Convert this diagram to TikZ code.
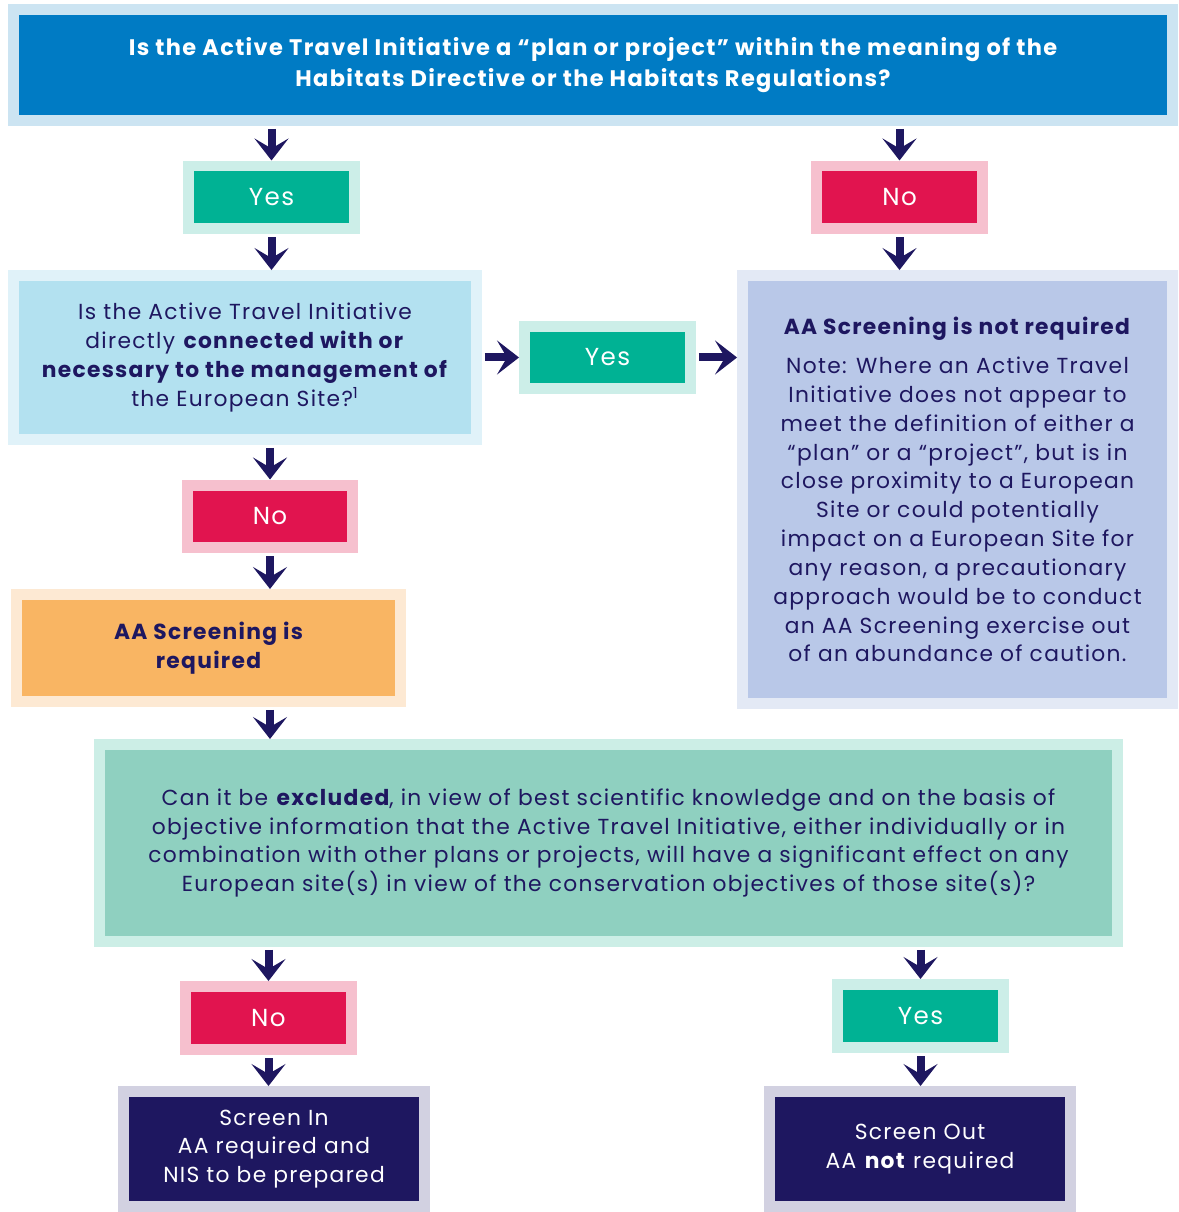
\documentclass[tikz,border=0pt]{standalone}
\usepackage{fontspec}
\setmainfont{Poppins}[LetterSpace=6]
\usepackage{tikz}
\usetikzlibrary{arrows.meta,positioning,calc}

\definecolor{navy}{HTML}{1E1760}
\definecolor{qblue}{HTML}{007BC4}
\definecolor{qbluepale}{HTML}{CCE4F2}
\definecolor{yesgreen}{HTML}{00B294}
\definecolor{yespale}{HTML}{CCEEE8}
\definecolor{nored}{HTML}{E1144F}
\definecolor{nopale}{HTML}{F6C0CE}
\definecolor{skyfill}{HTML}{B3E1F0}
\definecolor{skypale}{HTML}{E0F2F9}
\definecolor{notefill}{HTML}{B9C8E8}
\definecolor{notepale}{HTML}{E3E9F5}
\definecolor{reqfill}{HTML}{F9B563}
\definecolor{reqpale}{HTML}{FDE9D3}
\definecolor{mintfill}{HTML}{8FD0C0}
\definecolor{mintpale}{HTML}{CCEEE6}
\definecolor{endpale}{HTML}{D2D1E1}

\begin{document}
\begin{tikzpicture}[
    x=0.02cm, y=-0.02cm,
    box/.style={rectangle, line width=0.22cm, inner sep=0pt, align=center},
    answer/.style={box, minimum width=3.32cm, minimum height=1.26cm, text=white, font=\fontsize{14}{17}\selectfont},
    yesbox/.style={answer, fill=yesgreen, draw=yespale},
    nobox/.style={answer, fill=nored, draw=nopale},
    arrow/.style={draw=navy, line width=0.16cm, shorten <=0.06cm,
        -{Stealth[length=0.44cm, width=0.68cm, inset=0.2cm]}}
]
    \useasboundingbox (0,0) rectangle (1178,1212);

    % questions and answers
    \node [box, fill=qblue, draw=qbluepale, text=white, minimum width=23.18cm, minimum height=2.22cm,
        font=\bfseries\fontsize{12.8}{17.5}\selectfont] (plan) at (593,65)
        {Is the Active Travel Initiative a “plan or project” within the meaning of the\\
         Habitats Directive or the Habitats Regulations?};

    \node [yesbox] (yes1) at (271.5,197.5) {Yes};
    \node [nobox] (no1) at (899.5,197.5) {No};

    \node [box, fill=skyfill, draw=skypale, text=navy, minimum width=9.26cm, minimum height=3.28cm,
        font=\fontsize{12.4}{16.4}\selectfont] (mgmt) at (245,357.5)
        {Is the Active Travel Initiative\\
         directly \textbf{connected with or}\\
         \textbf{necessary to the management of}\\
         the European Site?\textsuperscript{1}};

    \node [yesbox] (yes2) at (607.5,357.5) {Yes};

    \node [box, fill=notefill, draw=notepale, text=navy, minimum width=8.6cm, minimum height=8.56cm,
        font=\fontsize{12.4}{16.4}\selectfont] (notreq) at (957.5,489.5)
        {\textbf{AA Screening is not required}\\[6pt]
         Note: Where an Active Travel\\
         Initiative does not appear to\\
         meet the definition of either a\\
         “plan” or a “project”, but is in\\
         close proximity to a European\\
         Site or could potentially\\
         impact on a European Site for\\
         any reason, a precautionary\\
         approach would be to conduct\\
         an AA Screening exercise out\\
         of an abundance of caution.};

    \node [nobox] (no2) at (270,516.5) {No};

    \node [box, fill=reqfill, draw=reqpale, text=navy, minimum width=7.68cm, minimum height=2.14cm,
        font=\bfseries\fontsize{12.4}{16.4}\selectfont] (req) at (208.5,648)
        {AA Screening is\\ required};

    \node [box, fill=mintfill, draw=mintpale, text=navy, minimum width=20.36cm, minimum height=3.94cm,
        font=\fontsize{12.4}{16.4}\selectfont] (effect) at (608.5,843)
        {Can it be \textbf{excluded}, in view of best scientific knowledge and on the basis of\\
         objective information that the Active Travel Initiative, either individually or in\\
         combination with other plans or projects, will have a significant effect on any\\
         European site(s) in view of the conservation objectives of those site(s)?};

    \node [nobox] (no3) at (268.5,1018) {No};
    \node [yesbox] (yes3) at (920.5,1016) {Yes};

    \node [box, fill=navy, draw=endpale, text=white, minimum width=6.02cm, minimum height=2.3cm,
        font=\fontsize{12.4}{16.4}\selectfont] (scrin) at (274,1149)
        {Screen In\\ AA required and\\ NIS to be prepared};
    \node [box, fill=navy, draw=endpale, text=white, minimum width=6.02cm, minimum height=2.3cm,
        font=\fontsize{12.4}{16.4}\selectfont] (scrout) at (920,1149)
        {Screen Out\\ AA \textbf{not} required};

    % connectors
    \draw [arrow] (yes1.north |- plan.south) -- (yes1.north);
    \draw [arrow] (no1.north |- plan.south) -- (no1.north);
    \draw [arrow] (yes1.south) -- (yes1.south |- mgmt.north);
    \draw [arrow] (no1.south) -- (no1.south |- notreq.north);
    \draw [arrow] (mgmt.east) -- (yes2.west);
    \draw [arrow] (yes2.east) -- (yes2.east -| notreq.west);
    \draw [arrow] (no2.north |- mgmt.south) -- (no2.north);
    \draw [arrow] (no2.south) -- (no2.south |- req.north);
    \draw [arrow] (no2.south |- req.south) -- (no2.south |- effect.north);
    \draw [arrow] (no3.north |- effect.south) -- (no3.north);
    \draw [arrow] (yes3.north |- effect.south) -- (yes3.north);
    \draw [arrow] (no3.south) -- (no3.south |- scrin.north);
    \draw [arrow] (yes3.south) -- (yes3.south |- scrout.north);
\end{tikzpicture}
\end{document}
